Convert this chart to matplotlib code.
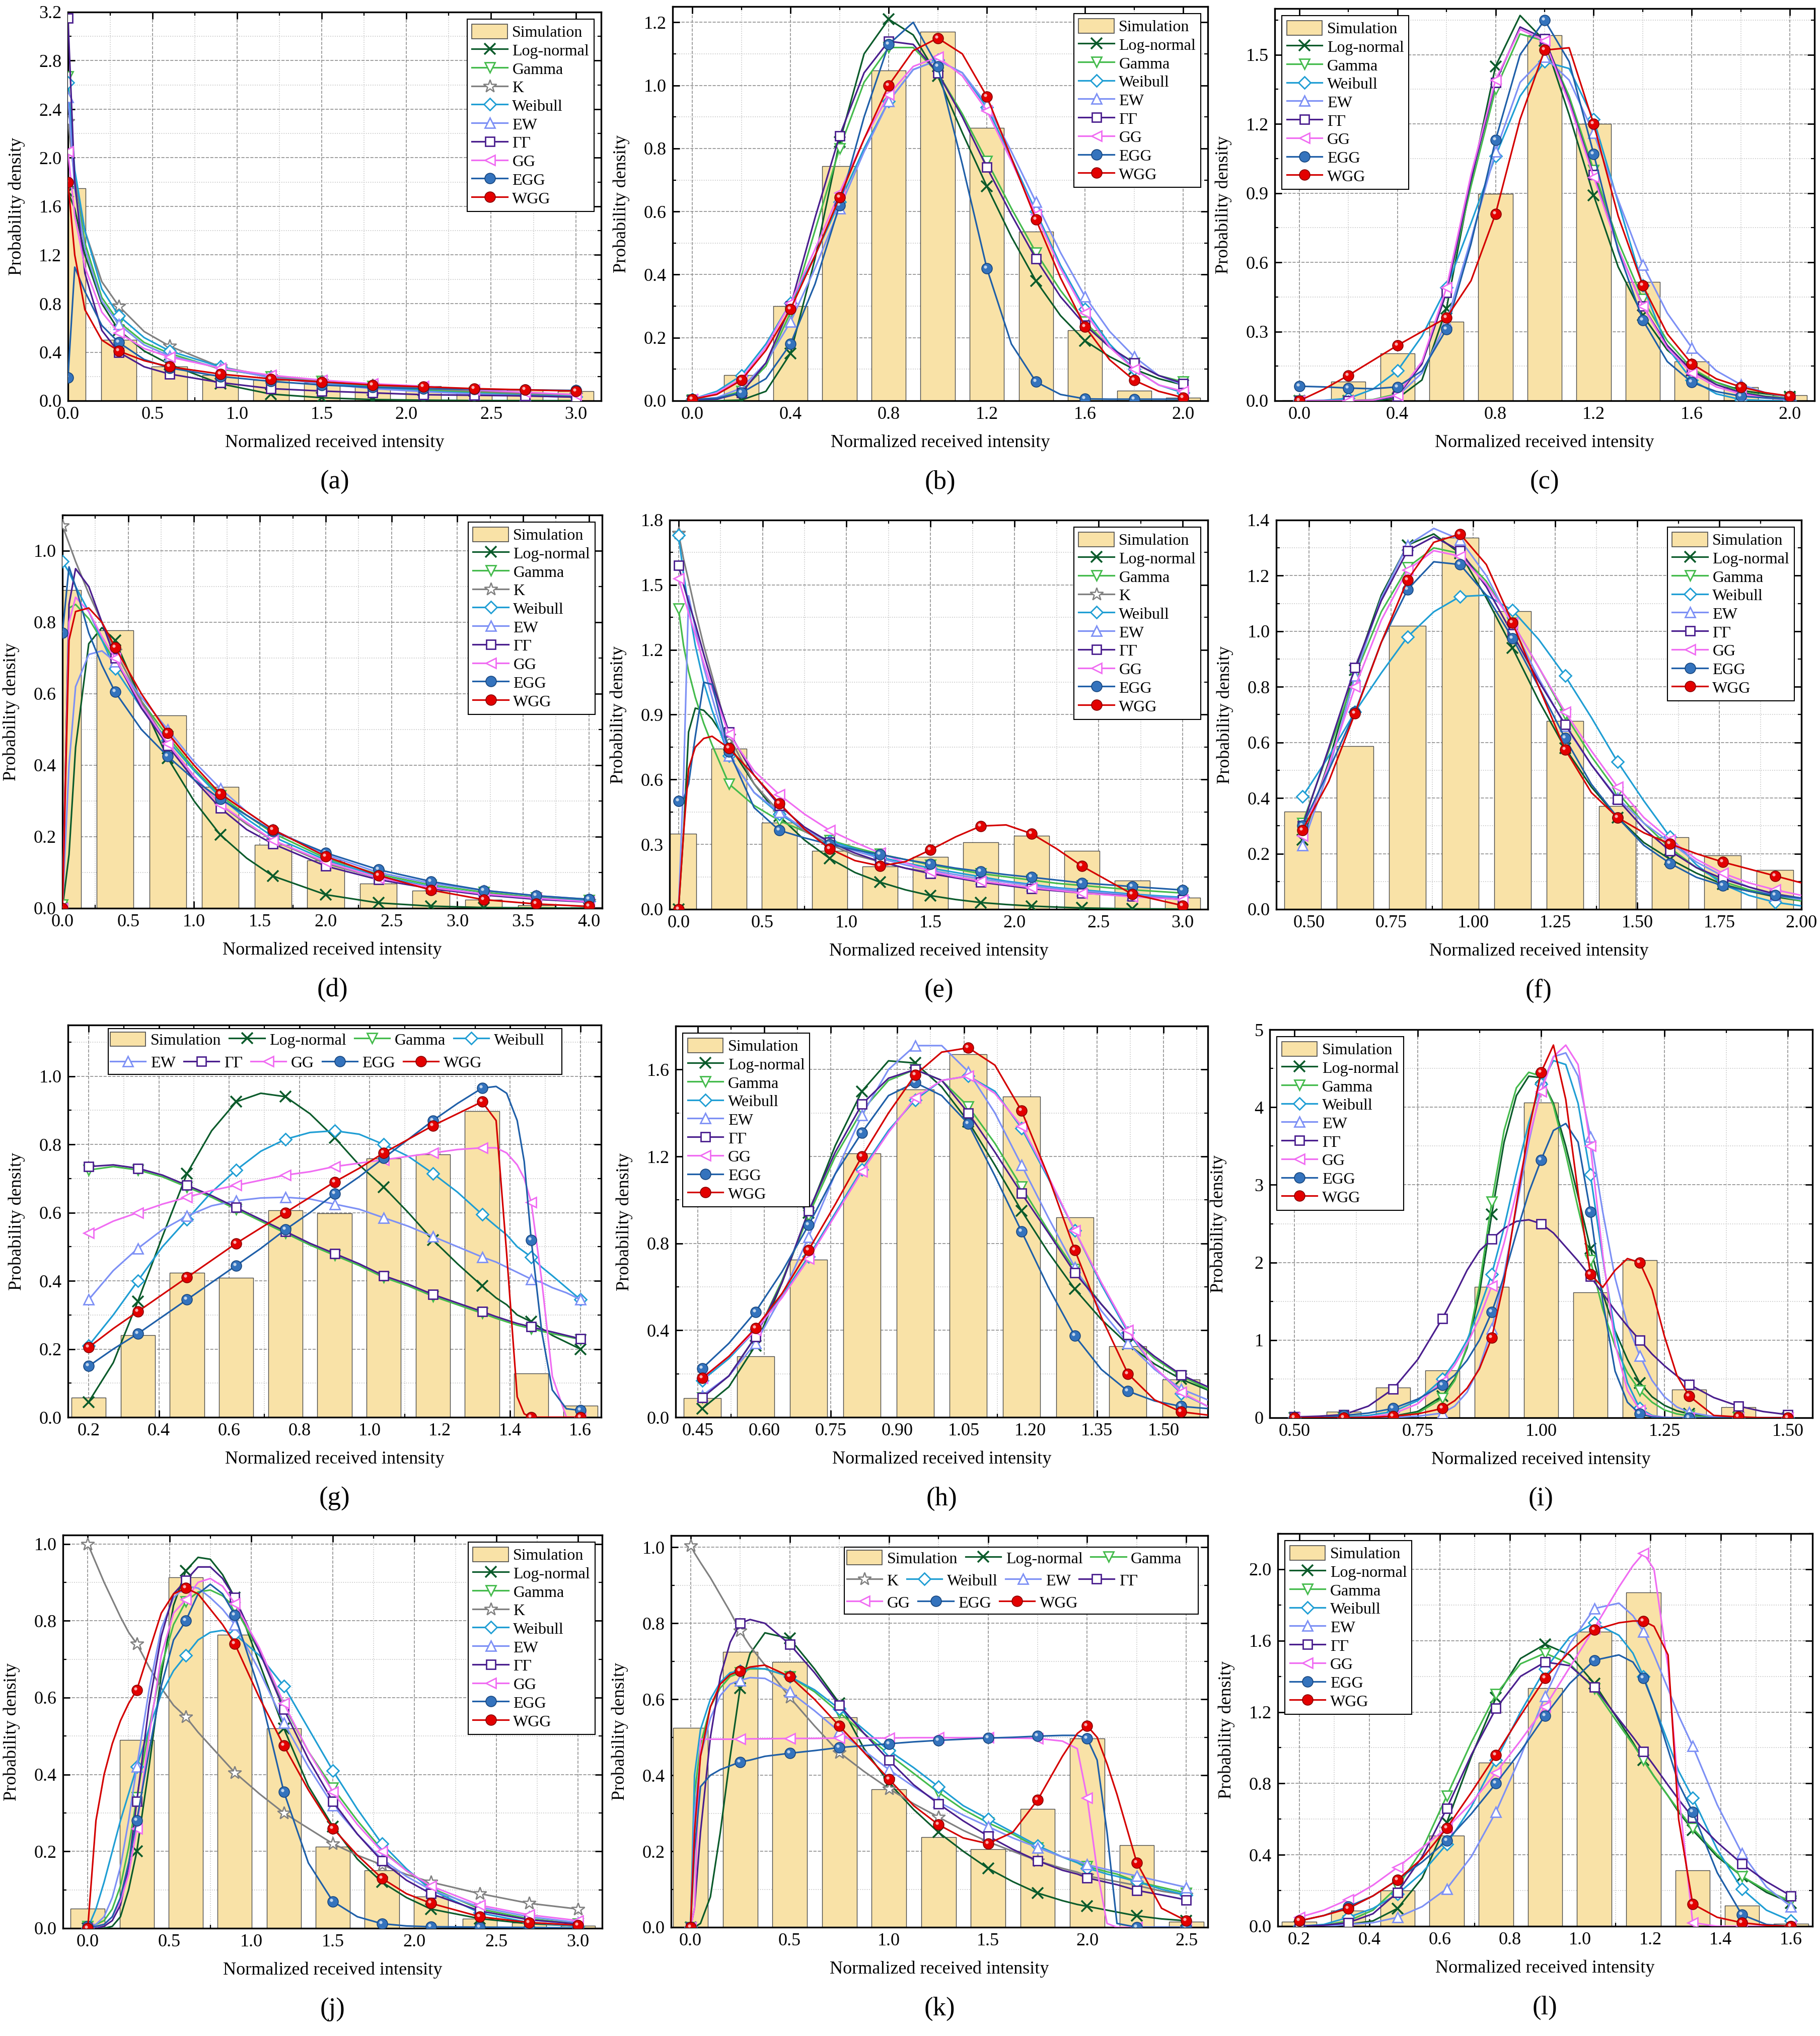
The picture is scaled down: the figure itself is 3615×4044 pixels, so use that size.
import numpy as np
import matplotlib.pyplot as plt
from matplotlib.lines import Line2D
from matplotlib.patches import Patch, Rectangle
from matplotlib.legend import Legend
from matplotlib.ticker import MultipleLocator, FormatStrFormatter
from matplotlib.transforms import offset_copy

plt.rcParams['font.family'] = ['Liberation Serif', 'DejaVu Serif']

# ---------------- data ----------------
# (a)
A_X = [0.0, 0.04, 0.1, 0.2, 0.3, 0.45, 0.6, 0.9, 1.2, 1.5, 1.8, 2.1, 2.4, 2.7, 3.0]
A_MARKS = [0.0, 0.3, 0.6, 0.9, 1.2, 1.5, 1.8, 2.1, 2.4, 2.7, 3.0]
A_BARS = [1.75, 0.50, 0.28, 0.21, 0.17, 0.15, 0.13, 0.12, 0.10, 0.09, 0.08]
A_LOGN = [1.72, 1.58, 1.20, 0.80, 0.58, 0.41, 0.30, 0.14, 0.055, 0.025, 0.01, 0.005, 0.002, 0.001, 0.0]
A_GAMMA = [2.67, 1.85, 1.30, 0.85, 0.65, 0.48, 0.39, 0.26, 0.20, 0.16, 0.12, 0.09, 0.07, 0.055, 0.045]
A_K = [2.30, 1.82, 1.40, 0.98, 0.78, 0.57, 0.45, 0.28, 0.20, 0.16, 0.13, 0.10, 0.08, 0.06, 0.05]
A_WEIB = [2.62, 1.90, 1.40, 0.92, 0.70, 0.52, 0.41, 0.28, 0.19, 0.15, 0.11, 0.08, 0.06, 0.045, 0.035]
A_EW = [2.50, 1.75, 1.25, 0.82, 0.63, 0.46, 0.37, 0.27, 0.19, 0.14, 0.10, 0.075, 0.055, 0.04, 0.03]
A_GGAM = [3.15, 1.80, 1.05, 0.58, 0.40, 0.28, 0.22, 0.15, 0.10, 0.08, 0.065, 0.05, 0.045, 0.04, 0.03]
A_GG = [2.05, 1.52, 1.10, 0.73, 0.56, 0.43, 0.36, 0.27, 0.21, 0.17, 0.14, 0.12, 0.09, 0.07, 0.05]
A_EGG = [0.19, 1.10, 0.90, 0.62, 0.48, 0.34, 0.27, 0.20, 0.16, 0.13, 0.11, 0.10, 0.095, 0.09, 0.085]
A_WGG = [1.80, 1.20, 0.75, 0.50, 0.41, 0.33, 0.28, 0.22, 0.18, 0.155, 0.13, 0.115, 0.10, 0.09, 0.08]

# (b)
B_X = [0.0, 0.1, 0.2, 0.3, 0.4, 0.5, 0.6, 0.7, 0.8, 0.9, 1.0, 1.1, 1.2, 1.3, 1.4, 1.5, 1.6, 1.7, 1.8, 1.9, 2.0]
B_MARKS = [0.0, 0.2, 0.4, 0.6, 0.8, 1.0, 1.2, 1.4, 1.6, 1.8, 2.0]
B_BARS = [0.0, 0.081, 0.30, 0.744, 1.048, 1.17, 0.866, 0.537, 0.223, 0.032, 0.009]
B_LOGN = [0.0, 0.0, 0.002, 0.03, 0.15, 0.45, 0.82, 1.10, 1.21, 1.16, 1.03, 0.85, 0.68, 0.52, 0.38, 0.27, 0.19, 0.14, 0.10, 0.07, 0.05]
B_GAMMA = [0.003, 0.008, 0.03, 0.11, 0.28, 0.54, 0.80, 1.01, 1.12, 1.12, 1.04, 0.91, 0.76, 0.61, 0.47, 0.35, 0.25, 0.17, 0.12, 0.08, 0.06]
B_WEIB = [0.005, 0.03, 0.08, 0.18, 0.31, 0.46, 0.63, 0.80, 0.95, 1.05, 1.08, 1.04, 0.93, 0.77, 0.60, 0.43, 0.29, 0.18, 0.10, 0.05, 0.025]
B_EW = [0.002, 0.01, 0.04, 0.12, 0.25, 0.42, 0.61, 0.79, 0.95, 1.05, 1.08, 1.04, 0.94, 0.79, 0.63, 0.47, 0.33, 0.22, 0.14, 0.08, 0.05]
B_GGAM = [0.003, 0.005, 0.025, 0.12, 0.30, 0.58, 0.84, 1.04, 1.14, 1.13, 1.04, 0.90, 0.74, 0.59, 0.45, 0.33, 0.24, 0.17, 0.12, 0.08, 0.055]
B_GG = [0.005, 0.025, 0.07, 0.17, 0.31, 0.48, 0.66, 0.83, 0.97, 1.06, 1.09, 1.03, 0.92, 0.76, 0.59, 0.42, 0.28, 0.17, 0.10, 0.05, 0.03]
B_EGG = [0.005, 0.008, 0.025, 0.07, 0.18, 0.37, 0.62, 0.90, 1.13, 1.20, 1.06, 0.75, 0.42, 0.18, 0.06, 0.02, 0.006, 0.005, 0.005, 0.005, 0.005]
B_WGG = [0.005, 0.02, 0.065, 0.16, 0.29, 0.46, 0.645, 0.83, 1.00, 1.11, 1.15, 1.10, 0.965, 0.77, 0.575, 0.39, 0.235, 0.13, 0.065, 0.03, 0.01]

# (c)
C_X = B_X
C_MARKS = B_MARKS
C_BARS = [0.003, 0.082, 0.205, 0.342, 0.896, 1.585, 1.20, 0.516, 0.17, 0.059, 0.025]
C_LOGN = [0.0, 0.0, 0.0, 0.0, 0.01, 0.09, 0.40, 0.95, 1.45, 1.67, 1.56, 1.24, 0.89, 0.58, 0.37, 0.22, 0.13, 0.08, 0.045, 0.03, 0.018]
C_GAMMA = [0.0, 0.0, 0.0, 0.005, 0.03, 0.16, 0.47, 0.93, 1.35, 1.59, 1.56, 1.32, 1.0, 0.69, 0.44, 0.26, 0.14, 0.08, 0.04, 0.02, 0.01]
C_WEIB = [0.0, 0.002, 0.01, 0.05, 0.13, 0.28, 0.49, 0.77, 1.06, 1.32, 1.47, 1.44, 1.22, 0.86, 0.50, 0.23, 0.09, 0.03, 0.005, 0.001, 0.0]
C_EW = [0.0, 0.0, 0.0, 0.002, 0.02, 0.12, 0.34, 0.70, 1.08, 1.38, 1.49, 1.39, 1.16, 0.87, 0.59, 0.38, 0.23, 0.13, 0.07, 0.035, 0.015]
C_GGAM = [0.0, 0.0, 0.0, 0.003, 0.02, 0.16, 0.47, 0.96, 1.38, 1.62, 1.57, 1.30, 0.98, 0.66, 0.41, 0.24, 0.13, 0.07, 0.035, 0.017, 0.008]
C_GG = [0.0, 0.0, 0.0, 0.003, 0.025, 0.17, 0.49, 0.98, 1.39, 1.61, 1.56, 1.29, 0.97, 0.66, 0.41, 0.23, 0.12, 0.06, 0.03, 0.012, 0.005]
C_EGG = [0.063, 0.06, 0.055, 0.052, 0.06, 0.13, 0.31, 0.68, 1.13, 1.50, 1.65, 1.47, 1.07, 0.65, 0.35, 0.17, 0.08, 0.04, 0.02, 0.012, 0.008]
C_WGG = [0.0, 0.05, 0.11, 0.175, 0.24, 0.30, 0.36, 0.52, 0.81, 1.22, 1.52, 1.53, 1.20, 0.80, 0.50, 0.29, 0.16, 0.095, 0.06, 0.035, 0.02]

# (d)
D_X = [0.0, 0.05, 0.1, 0.2, 0.3, 0.4, 0.6, 0.8, 1.0, 1.2, 1.4, 1.6, 2.0, 2.4, 2.8, 3.2, 3.6, 4.0]
D_MARKS = [0.0, 0.4, 0.8, 1.2, 1.6, 2.0, 2.4, 2.8, 3.2, 3.6, 4.0]
D_BARS = [0.89, 0.778, 0.539, 0.34, 0.177, 0.134, 0.069, 0.049, 0.024, 0.008, 0.003]
D_LOGN = [0.0, 0.15, 0.45, 0.74, 0.785, 0.75, 0.58, 0.42, 0.30, 0.205, 0.14, 0.09, 0.038, 0.015, 0.006, 0.002, 0.001, 0.0]
D_GAMMA = [0.01, 0.84, 0.85, 0.81, 0.75, 0.69, 0.58, 0.48, 0.39, 0.315, 0.26, 0.21, 0.14, 0.095, 0.065, 0.045, 0.03, 0.022]
D_K = [1.07, 1.02, 0.97, 0.88, 0.80, 0.72, 0.58, 0.46, 0.37, 0.29, 0.235, 0.19, 0.125, 0.085, 0.058, 0.04, 0.028, 0.02]
D_WEIB = [0.97, 0.94, 0.90, 0.83, 0.75, 0.67, 0.56, 0.47, 0.385, 0.31, 0.25, 0.20, 0.135, 0.09, 0.06, 0.04, 0.028, 0.02]
D_EW = [0.0, 0.40, 0.62, 0.71, 0.72, 0.69, 0.59, 0.50, 0.41, 0.335, 0.27, 0.22, 0.15, 0.10, 0.07, 0.05, 0.035, 0.025]
D_GGAM = [0.0, 0.85, 0.95, 0.90, 0.80, 0.70, 0.56, 0.455, 0.36, 0.28, 0.22, 0.18, 0.118, 0.08, 0.055, 0.037, 0.025, 0.017]
D_GG = [0.0, 0.80, 0.87, 0.83, 0.76, 0.70, 0.57, 0.46, 0.37, 0.29, 0.24, 0.19, 0.13, 0.085, 0.058, 0.04, 0.028, 0.018]
D_EGG = [0.77, 0.955, 0.90, 0.77, 0.68, 0.605, 0.50, 0.425, 0.36, 0.305, 0.26, 0.215, 0.155, 0.108, 0.075, 0.05, 0.035, 0.025]
D_WGG = [0.0, 0.75, 0.83, 0.84, 0.80, 0.73, 0.60, 0.49, 0.40, 0.32, 0.27, 0.22, 0.145, 0.092, 0.051, 0.024, 0.012, 0.005]

# (e)
E_X = [0.0, 0.03, 0.06, 0.1, 0.15, 0.2, 0.3, 0.45, 0.6, 0.75, 0.9, 1.05, 1.2, 1.35, 1.5, 1.65, 1.8, 1.95, 2.1, 2.25, 2.4, 2.7, 3.0]
E_MARKS = [0.0, 0.3, 0.6, 0.9, 1.2, 1.5, 1.8, 2.1, 2.4, 2.7, 3.0]
E_BARS = [0.35, 0.743, 0.40, 0.269, 0.199, 0.242, 0.31, 0.34, 0.269, 0.132, 0.054]
E_LOGN = [0.0, 0.35, 0.82, 0.93, 0.92, 0.88, 0.76, 0.58, 0.43, 0.32, 0.235, 0.17, 0.125, 0.09, 0.063, 0.045, 0.031, 0.022, 0.015, 0.01, 0.006, 0.002, 0.001]
E_GAMMA = [1.39, 1.22, 1.10, 0.98, 0.86, 0.76, 0.58, 0.48, 0.41, 0.36, 0.32, 0.285, 0.255, 0.23, 0.205, 0.185, 0.165, 0.15, 0.135, 0.12, 0.11, 0.09, 0.075]
E_K = [1.74, 1.62, 1.52, 1.38, 1.22, 1.08, 0.80, 0.58, 0.45, 0.36, 0.30, 0.25, 0.22, 0.19, 0.17, 0.15, 0.13, 0.115, 0.10, 0.09, 0.08, 0.065, 0.05]
E_WEIB = [1.73, 1.55, 1.40, 1.22, 1.05, 0.92, 0.71, 0.54, 0.44, 0.37, 0.315, 0.28, 0.24, 0.215, 0.19, 0.17, 0.15, 0.13, 0.115, 0.10, 0.09, 0.07, 0.055]
E_EW = [0.0, 0.60, 1.45, 1.30, 1.12, 0.98, 0.71, 0.54, 0.45, 0.37, 0.31, 0.27, 0.235, 0.205, 0.18, 0.16, 0.14, 0.125, 0.11, 0.095, 0.085, 0.065, 0.05]
E_GGAM = [1.59, 1.50, 1.42, 1.32, 1.18, 1.05, 0.82, 0.62, 0.48, 0.38, 0.31, 0.26, 0.22, 0.19, 0.165, 0.145, 0.125, 0.11, 0.095, 0.085, 0.075, 0.06, 0.045]
E_GG = [1.53, 1.45, 1.37, 1.27, 1.14, 1.02, 0.81, 0.64, 0.53, 0.44, 0.365, 0.31, 0.26, 0.215, 0.175, 0.15, 0.13, 0.115, 0.10, 0.088, 0.075, 0.058, 0.045]
E_EGG = [0.50, 0.51, 0.58, 0.80, 1.05, 1.04, 0.73, 0.47, 0.365, 0.33, 0.30, 0.275, 0.253, 0.23, 0.21, 0.19, 0.175, 0.16, 0.148, 0.135, 0.122, 0.105, 0.089]
E_WGG = [0.0, 0.35, 0.65, 0.75, 0.79, 0.80, 0.745, 0.62, 0.49, 0.37, 0.28, 0.225, 0.20, 0.22, 0.275, 0.335, 0.385, 0.39, 0.35, 0.28, 0.20, 0.07, 0.017]

# (f)
F_X = [0.48, 0.56, 0.64, 0.72, 0.80, 0.88, 0.96, 1.04, 1.12, 1.20, 1.28, 1.36, 1.44, 1.52, 1.60, 1.68, 1.76, 1.84, 1.92, 2.00]
F_MARKS = [0.48, 0.64, 0.80, 0.96, 1.12, 1.28, 1.44, 1.60, 1.76, 1.92]
F_BARS = [0.351, 0.587, 1.019, 1.337, 1.072, 0.677, 0.372, 0.259, 0.194, 0.142]
F_LOGN = [0.25, 0.53, 0.86, 1.13, 1.31, 1.35, 1.28, 1.12, 0.94, 0.75, 0.58, 0.44, 0.33, 0.24, 0.18, 0.13, 0.09, 0.065, 0.045, 0.03]
F_GAMMA = [0.31, 0.57, 0.84, 1.07, 1.23, 1.30, 1.28, 1.18, 1.03, 0.87, 0.70, 0.55, 0.42, 0.31, 0.22, 0.15, 0.10, 0.07, 0.05, 0.03]
F_WEIB = [0.405, 0.55, 0.71, 0.85, 0.98, 1.07, 1.125, 1.13, 1.075, 0.97, 0.84, 0.69, 0.53, 0.39, 0.26, 0.16, 0.09, 0.05, 0.025, 0.012]
F_EW = [0.23, 0.50, 0.84, 1.12, 1.31, 1.37, 1.33, 1.20, 1.02, 0.83, 0.66, 0.52, 0.40, 0.31, 0.24, 0.17, 0.12, 0.08, 0.05, 0.035]
F_GGAM = [0.30, 0.58, 0.87, 1.11, 1.29, 1.34, 1.29, 1.16, 0.99, 0.82, 0.665, 0.52, 0.395, 0.29, 0.21, 0.15, 0.11, 0.08, 0.055, 0.04]
F_GG = [0.265, 0.52, 0.80, 1.04, 1.22, 1.29, 1.27, 1.17, 1.03, 0.87, 0.71, 0.57, 0.44, 0.33, 0.25, 0.18, 0.13, 0.095, 0.07, 0.05]
F_EGG = [0.30, 0.50, 0.71, 0.96, 1.15, 1.25, 1.24, 1.13, 0.975, 0.80, 0.615, 0.45, 0.33, 0.23, 0.165, 0.115, 0.085, 0.065, 0.05, 0.04]
F_WGG = [0.285, 0.46, 0.705, 0.96, 1.185, 1.32, 1.35, 1.24, 1.03, 0.80, 0.575, 0.42, 0.33, 0.275, 0.235, 0.20, 0.17, 0.145, 0.12, 0.095]

# (g)
G_X = [0.2, 0.27, 0.34, 0.41, 0.48, 0.55, 0.62, 0.69, 0.76, 0.83, 0.90, 0.97, 1.04, 1.11, 1.18, 1.25, 1.32,
       1.36, 1.39, 1.42, 1.44, 1.46, 1.49, 1.52, 1.56, 1.60]
G_MARKS = [0.2, 0.34, 0.48, 0.62, 0.76, 0.90, 1.04, 1.18, 1.32, 1.46, 1.60]
G_BARS = [0.058, 0.241, 0.424, 0.409, 0.607, 0.598, 0.759, 0.771, 0.898, 0.128, 0.034]
G_LOGN = [0.045, 0.16, 0.34, 0.53, 0.715, 0.84, 0.925, 0.95, 0.94, 0.89, 0.82, 0.74, 0.675, 0.60, 0.52, 0.45, 0.385,
          0.35, 0.33, 0.30, 0.29, 0.28, 0.26, 0.24, 0.22, 0.20]
G_GAMMA = [0.725, 0.735, 0.725, 0.705, 0.675, 0.645, 0.61, 0.575, 0.54, 0.505, 0.475, 0.445, 0.41, 0.385, 0.355, 0.33, 0.305,
           0.29, 0.28, 0.27, 0.265, 0.26, 0.252, 0.245, 0.237, 0.228]
G_WEIB = [0.21, 0.30, 0.40, 0.50, 0.58, 0.66, 0.725, 0.78, 0.815, 0.835, 0.84, 0.83, 0.80, 0.765, 0.715, 0.66, 0.595,
          0.56, 0.535, 0.50, 0.485, 0.47, 0.44, 0.415, 0.38, 0.345]
G_EW = [0.345, 0.43, 0.495, 0.55, 0.59, 0.62, 0.635, 0.643, 0.645, 0.64, 0.625, 0.61, 0.585, 0.56, 0.53, 0.50, 0.47,
        0.455, 0.44, 0.425, 0.415, 0.405, 0.395, 0.38, 0.365, 0.345]
G_GGAM = [0.735, 0.74, 0.73, 0.71, 0.68, 0.65, 0.615, 0.58, 0.545, 0.51, 0.48, 0.45, 0.415, 0.39, 0.36, 0.335, 0.31,
          0.295, 0.285, 0.275, 0.27, 0.265, 0.257, 0.25, 0.24, 0.23]
G_GG = [0.54, 0.575, 0.60, 0.625, 0.645, 0.665, 0.68, 0.695, 0.71, 0.72, 0.735, 0.745, 0.755, 0.765, 0.775, 0.785, 0.79,
        0.79, 0.775, 0.74, 0.70, 0.63, 0.40, 0.12, 0.0, 0.0]
G_EGG = [0.15, 0.20, 0.245, 0.295, 0.345, 0.395, 0.445, 0.495, 0.55, 0.60, 0.655, 0.705, 0.76, 0.815, 0.87, 0.92, 0.965,
         0.97, 0.95, 0.87, 0.75, 0.52, 0.25, 0.08, 0.025, 0.02]
G_WGG = [0.205, 0.26, 0.31, 0.36, 0.41, 0.46, 0.51, 0.555, 0.60, 0.645, 0.69, 0.73, 0.775, 0.815, 0.855, 0.89, 0.925,
         0.87, 0.48, 0.06, 0.01, 0.0, 0.0, 0.0, 0.0, 0.0]

# (h)
H_X = [0.46, 0.52, 0.58, 0.64, 0.70, 0.76, 0.82, 0.88, 0.94, 1.00, 1.06, 1.12, 1.18, 1.24, 1.30, 1.36, 1.42, 1.48, 1.54, 1.60]
H_MARKS = [0.46, 0.58, 0.70, 0.82, 0.94, 1.06, 1.18, 1.30, 1.42, 1.54]
H_BARS = [0.089, 0.28, 0.726, 1.214, 1.507, 1.671, 1.475, 0.919, 0.326, 0.173]
H_LOGN = [0.04, 0.14, 0.33, 0.62, 0.94, 1.25, 1.50, 1.64, 1.63, 1.52, 1.36, 1.16, 0.95, 0.76, 0.59, 0.45, 0.335, 0.245, 0.175, 0.125]
H_GAMMA = [0.09, 0.19, 0.37, 0.63, 0.93, 1.20, 1.41, 1.55, 1.60, 1.55, 1.43, 1.26, 1.06, 0.86, 0.68, 0.52, 0.38, 0.27, 0.19, 0.13]
H_WEIB = [0.17, 0.27, 0.40, 0.56, 0.74, 0.94, 1.14, 1.32, 1.46, 1.55, 1.57, 1.50, 1.33, 1.10, 0.86, 0.61, 0.39, 0.23, 0.11, 0.05]
H_EW = [0.10, 0.19, 0.34, 0.56, 0.83, 1.12, 1.39, 1.60, 1.71, 1.71, 1.59, 1.40, 1.16, 0.92, 0.69, 0.49, 0.34, 0.22, 0.13, 0.08]
H_GGAM = [0.09, 0.19, 0.37, 0.62, 0.95, 1.22, 1.44, 1.56, 1.60, 1.55, 1.40, 1.22, 1.03, 0.85, 0.665, 0.52, 0.38, 0.28, 0.195, 0.14]
H_GG = [0.18, 0.28, 0.40, 0.55, 0.73, 0.93, 1.13, 1.31, 1.47, 1.55, 1.57, 1.49, 1.34, 1.11, 0.86, 0.62, 0.40, 0.23, 0.115, 0.05]
H_EGG = [0.225, 0.34, 0.485, 0.67, 0.885, 1.12, 1.31, 1.48, 1.54, 1.48, 1.35, 1.11, 0.855, 0.60, 0.375, 0.22, 0.12, 0.075, 0.05, 0.04]
H_WGG = [0.18, 0.28, 0.41, 0.57, 0.77, 0.98, 1.20, 1.40, 1.575, 1.68, 1.70, 1.62, 1.41, 1.11, 0.77, 0.46, 0.20, 0.08, 0.025, 0.01]

# (i)
I_X = [0.5, 0.55, 0.6, 0.65, 0.7, 0.75, 0.8, 0.825, 0.85, 0.875, 0.9, 0.925, 0.95, 0.975, 1.0, 1.025, 1.05,
       1.075, 1.1, 1.125, 1.15, 1.175, 1.2, 1.225, 1.25, 1.275, 1.3, 1.35, 1.4, 1.45, 1.5]
I_MARKS = [0.5, 0.6, 0.7, 0.8, 0.9, 1.0, 1.1, 1.2, 1.3, 1.4, 1.5]
I_BARS = [0.0, 0.08, 0.39, 0.607, 1.685, 4.06, 1.618, 2.03, 0.363, 0.139, 0.0]
I_LOGN = [0.0, 0.0, 0.0, 0.005, 0.02, 0.08, 0.28, 0.50, 0.90, 1.60, 2.62, 3.55, 4.15, 4.40, 4.38, 4.05, 3.50,
          2.85, 2.18, 1.60, 1.12, 0.75, 0.45, 0.27, 0.16, 0.09, 0.05, 0.015, 0.005, 0.0, 0.0]
I_GAMMA = [0.0, 0.0, 0.0, 0.003, 0.015, 0.06, 0.25, 0.48, 0.92, 1.70, 2.78, 3.70, 4.25, 4.45, 4.40, 4.02, 3.40,
           2.70, 2.03, 1.40, 0.92, 0.58, 0.35, 0.20, 0.10, 0.05, 0.025, 0.005, 0.0, 0.0, 0.0]
I_WEIB = [0.0, 0.0, 0.01, 0.03, 0.08, 0.22, 0.50, 0.72, 1.00, 1.40, 1.85, 2.45, 3.15, 3.80, 4.30, 4.60, 4.55,
          4.05, 3.13, 2.05, 1.10, 0.45, 0.12, 0.03, 0.005, 0.0, 0.0, 0.0, 0.0, 0.0, 0.0]
I_EW = [0.0, 0.0, 0.0, 0.0, 0.005, 0.02, 0.06, 0.15, 0.33, 0.65, 1.15, 1.85, 2.70, 3.55, 4.25, 4.65, 4.70,
        4.40, 3.62, 2.65, 1.80, 1.20, 0.80, 0.48, 0.27, 0.14, 0.07, 0.015, 0.003, 0.0, 0.0]
I_GGAM = [0.01, 0.02, 0.04, 0.15, 0.37, 0.75, 1.28, 1.58, 1.90, 2.15, 2.30, 2.44, 2.53, 2.55, 2.50, 2.38, 2.20,
          2.02, 1.82, 1.60, 1.38, 1.18, 1.00, 0.82, 0.67, 0.54, 0.43, 0.26, 0.15, 0.08, 0.04]
I_GG = [0.0, 0.0, 0.0, 0.01, 0.05, 0.18, 0.47, 0.68, 0.95, 1.28, 1.70, 2.25, 2.90, 3.60, 4.20, 4.65, 4.80,
        4.55, 3.50, 2.10, 0.95, 0.35, 0.10, 0.02, 0.005, 0.0, 0.0, 0.0, 0.0, 0.0, 0.0]
I_EGG = [0.0, 0.0, 0.03, 0.06, 0.12, 0.24, 0.42, 0.55, 0.74, 1.00, 1.36, 1.82, 2.38, 2.90, 3.32, 3.70, 3.79,
         3.55, 2.65, 1.50, 0.60, 0.20, 0.05, 0.01, 0.0, 0.0, 0.0, 0.0, 0.0, 0.0, 0.0]
I_WGG = [0.0, 0.0, 0.0, 0.005, 0.02, 0.05, 0.12, 0.22, 0.38, 0.63, 1.03, 1.75, 2.75, 3.70, 4.45, 4.80, 4.10,
         2.90, 1.85, 1.68, 1.90, 2.05, 2.00, 1.65, 1.05, 0.55, 0.28, 0.03, 0.01, 0.0, 0.0]

# (j)
J_X = [0.0, 0.05, 0.1, 0.15, 0.2, 0.25, 0.3, 0.375, 0.45, 0.525, 0.6, 0.675, 0.75, 0.825, 0.9,
       1.05, 1.2, 1.35, 1.5, 1.65, 1.8, 1.95, 2.1, 2.4, 2.7, 3.0]
J_MARKS = [0.0, 0.3, 0.6, 0.9, 1.2, 1.5, 1.8, 2.1, 2.4, 2.7, 3.0]
J_BARS = [0.051, 0.49, 0.913, 0.763, 0.52, 0.212, 0.15, 0.082, 0.025, 0.014, 0.006]
J_LOGN = [0.0, 0.0, 0.0, 0.005, 0.03, 0.10, 0.20, 0.42, 0.66, 0.84, 0.93, 0.965, 0.96, 0.92, 0.86,
          0.69, 0.52, 0.37, 0.265, 0.18, 0.12, 0.08, 0.05, 0.025, 0.012, 0.006]
J_GAMMA = [0.005, 0.01, 0.02, 0.05, 0.11, 0.21, 0.34, 0.52, 0.68, 0.79, 0.85, 0.875, 0.88, 0.865, 0.835,
           0.72, 0.58, 0.46, 0.365, 0.28, 0.205, 0.15, 0.105, 0.05, 0.025, 0.012]
J_K = [1.0, 0.95, 0.90, 0.855, 0.81, 0.77, 0.74, 0.68, 0.625, 0.58, 0.55, 0.51, 0.475, 0.44, 0.405,
       0.35, 0.30, 0.26, 0.22, 0.19, 0.165, 0.14, 0.12, 0.09, 0.065, 0.05]
J_WEIB = [0.0, 0.05, 0.12, 0.20, 0.28, 0.35, 0.42, 0.52, 0.61, 0.67, 0.71, 0.75, 0.77, 0.775, 0.765,
          0.71, 0.63, 0.52, 0.41, 0.31, 0.22, 0.155, 0.10, 0.04, 0.015, 0.005]
J_EW = [0.0, 0.01, 0.03, 0.08, 0.16, 0.28, 0.42, 0.62, 0.78, 0.86, 0.89, 0.885, 0.86, 0.83, 0.79,
        0.67, 0.535, 0.42, 0.32, 0.245, 0.18, 0.135, 0.10, 0.055, 0.03, 0.015]
J_GGAM = [0.0, 0.0, 0.005, 0.02, 0.06, 0.16, 0.33, 0.58, 0.76, 0.87, 0.905, 0.94, 0.94, 0.91, 0.86,
          0.72, 0.57, 0.44, 0.33, 0.245, 0.175, 0.125, 0.09, 0.045, 0.022, 0.011]
J_GG = [0.0, 0.005, 0.01, 0.03, 0.07, 0.14, 0.26, 0.50, 0.71, 0.82, 0.855, 0.90, 0.91, 0.89, 0.845,
        0.73, 0.585, 0.46, 0.355, 0.27, 0.20, 0.15, 0.11, 0.06, 0.035, 0.02]
J_EGG = [0.005, 0.005, 0.01, 0.03, 0.08, 0.17, 0.28, 0.46, 0.63, 0.75, 0.80, 0.87, 0.895, 0.87, 0.815,
         0.62, 0.355, 0.17, 0.07, 0.03, 0.012, 0.006, 0.004, 0.003, 0.002, 0.001]
J_WGG = [0.0, 0.28, 0.40, 0.48, 0.54, 0.585, 0.62, 0.72, 0.82, 0.87, 0.885, 0.87, 0.83, 0.79, 0.74,
         0.60, 0.475, 0.36, 0.26, 0.19, 0.13, 0.09, 0.065, 0.03, 0.015, 0.008]

# (k)
K_X = [0.0, 0.02, 0.05, 0.1, 0.15, 0.2, 0.25, 0.3, 0.375, 0.5, 0.625, 0.75, 0.875, 1.0, 1.125, 1.25,
       1.375, 1.5, 1.625, 1.75, 1.875, 1.95, 2.0, 2.05, 2.1, 2.15, 2.25, 2.375, 2.5]
K_MARKS = [0.0, 0.25, 0.5, 0.75, 1.0, 1.25, 1.5, 1.75, 2.0, 2.25, 2.5]
K_BARS = [0.525, 0.725, 0.698, 0.552, 0.363, 0.237, 0.206, 0.312, 0.497, 0.216, 0.014]
K_LOGN = [0.0, 0.0, 0.01, 0.08, 0.25, 0.45, 0.63, 0.72, 0.775, 0.76, 0.68, 0.59, 0.47, 0.38, 0.31, 0.25,
          0.20, 0.155, 0.12, 0.09, 0.07, 0.06, 0.055, 0.05, 0.045, 0.04, 0.03, 0.022, 0.017]
K_GAMMA = [0.0, 0.35, 0.48, 0.58, 0.63, 0.66, 0.67, 0.68, 0.68, 0.66, 0.62, 0.565, 0.51, 0.455, 0.405, 0.355,
           0.31, 0.275, 0.245, 0.21, 0.185, 0.17, 0.16, 0.153, 0.146, 0.14, 0.12, 0.105, 0.09]
K_K = [1.005, 0.985, 0.96, 0.92, 0.875, 0.83, 0.78, 0.74, 0.69, 0.605, 0.53, 0.46, 0.41, 0.365, 0.325, 0.29,
       0.255, 0.225, 0.20, 0.175, 0.155, 0.145, 0.135, 0.13, 0.125, 0.12, 0.11, 0.095, 0.085]
K_WEIB = [0.0, 0.40, 0.52, 0.60, 0.645, 0.67, 0.675, 0.683, 0.68, 0.66, 0.625, 0.575, 0.52, 0.465, 0.42, 0.37,
          0.32, 0.285, 0.25, 0.215, 0.185, 0.17, 0.155, 0.148, 0.14, 0.134, 0.12, 0.10, 0.085]
K_EW = [0.0, 0.30, 0.45, 0.55, 0.61, 0.64, 0.65, 0.657, 0.655, 0.62, 0.57, 0.515, 0.465, 0.415, 0.37, 0.33,
        0.295, 0.265, 0.235, 0.21, 0.185, 0.175, 0.165, 0.158, 0.152, 0.146, 0.135, 0.12, 0.105]
K_GGAM = [0.0, 0.05, 0.25, 0.50, 0.66, 0.75, 0.80, 0.81, 0.80, 0.745, 0.67, 0.585, 0.51, 0.44, 0.375, 0.325,
          0.28, 0.24, 0.205, 0.175, 0.15, 0.14, 0.13, 0.124, 0.118, 0.112, 0.097, 0.085, 0.072]
K_GG = [0.0, 0.05, 0.495, 0.495, 0.495, 0.495, 0.495, 0.496, 0.496, 0.497, 0.497, 0.498, 0.498, 0.498, 0.499, 0.499,
        0.499, 0.499, 0.498, 0.497, 0.49, 0.47, 0.34, 0.15, 0.01, 0.0, 0.0, 0.0, 0.0]
K_EGG = [0.0, 0.20, 0.37, 0.40, 0.415, 0.425, 0.435, 0.44, 0.45, 0.458, 0.465, 0.473, 0.478, 0.483, 0.488, 0.492,
         0.495, 0.498, 0.50, 0.503, 0.505, 0.505, 0.497, 0.44, 0.25, 0.01, 0.0, 0.0, 0.0]
K_WGG = [0.0, 0.25, 0.45, 0.58, 0.64, 0.665, 0.675, 0.685, 0.69, 0.66, 0.60, 0.53, 0.46, 0.39, 0.32, 0.27,
         0.235, 0.22, 0.25, 0.335, 0.45, 0.51, 0.53, 0.50, 0.43, 0.35, 0.17, 0.05, 0.017]

# (l)
L_X = [0.2, 0.27, 0.34, 0.41, 0.48, 0.55, 0.62, 0.69, 0.76, 0.83, 0.90, 0.97, 1.04, 1.11, 1.15, 1.18,
       1.21, 1.25, 1.28, 1.32, 1.39, 1.46, 1.53, 1.60]
L_MARKS = [0.2, 0.34, 0.48, 0.62, 0.76, 0.90, 1.04, 1.18, 1.32, 1.46, 1.60]
L_BARS = [0.024, 0.088, 0.199, 0.508, 0.918, 1.333, 1.65, 1.87, 0.312, 0.117, 0.015]
L_LOGN = [0.0, 0.0, 0.01, 0.03, 0.10, 0.27, 0.58, 0.95, 1.28, 1.50, 1.58, 1.52, 1.36, 1.15, 1.03, 0.93,
          0.84, 0.73, 0.64, 0.54, 0.39, 0.28, 0.19, 0.13]
L_GAMMA = [0.0, 0.005, 0.03, 0.09, 0.22, 0.43, 0.73, 1.03, 1.30, 1.47, 1.53, 1.47, 1.33, 1.13, 1.02, 0.93,
           0.84, 0.73, 0.65, 0.55, 0.40, 0.28, 0.20, 0.14]
L_WEIB = [0.0, 0.01, 0.05, 0.10, 0.18, 0.30, 0.46, 0.67, 0.93, 1.20, 1.44, 1.62, 1.70, 1.63, 1.53, 1.40,
          1.24, 1.03, 0.87, 0.72, 0.43, 0.21, 0.09, 0.03]
L_EW = [0.0, 0.0, 0.01, 0.02, 0.05, 0.11, 0.21, 0.39, 0.64, 0.95, 1.29, 1.58, 1.78, 1.81, 1.74, 1.65,
        1.52, 1.33, 1.18, 1.01, 0.68, 0.41, 0.22, 0.11]
L_GGAM = [0.0, 0.005, 0.02, 0.07, 0.19, 0.39, 0.66, 0.96, 1.22, 1.40, 1.48, 1.46, 1.34, 1.16, 1.06, 0.98,
          0.90, 0.79, 0.71, 0.61, 0.47, 0.35, 0.25, 0.17]
L_GG = [0.05, 0.09, 0.15, 0.23, 0.33, 0.44, 0.55, 0.69, 0.86, 1.04, 1.23, 1.45, 1.67, 1.90, 2.02, 2.09,
        2.00, 1.45, 0.75, 0.02, 0.0, 0.0, 0.0, 0.0]
L_EGG = [0.03, 0.06, 0.11, 0.17, 0.26, 0.36, 0.48, 0.63, 0.80, 0.98, 1.18, 1.36, 1.49, 1.52, 1.48, 1.39,
         1.24, 0.99, 0.80, 0.64, 0.30, 0.065, 0.01, 0.0]
L_WGG = [0.03, 0.06, 0.10, 0.17, 0.26, 0.38, 0.55, 0.75, 0.96, 1.18, 1.39, 1.54, 1.66, 1.70, 1.71, 1.71,
         1.68, 1.52, 0.60, 0.125, 0.05, 0.02, 0.005, 0.0]

# ---------------- styling ----------------
BAR_FACE = '#f9e2a7'
BAR_EDGE = '#4a4a4a'
LW = 2.3
LEG_FS = 23
STYLES = {
    'Log-normal': dict(color='#0b5b2b', marker='x', ms=16, mfc='none', mec='#0b5b2b', mew=2.6),
    'Gamma': dict(color='#44bb4c', marker='v', ms=15, mfc='white', mec='#44bb4c', mew=2.0),
    'K': dict(color='#808080', marker='*', ms=19, mfc='white', mec='#808080', mew=1.8),
    'Weibull': dict(color='#1f9ed4', marker='D', ms=12, mfc='white', mec='#1f9ed4', mew=2.0),
    'EW': dict(color='#7d90f5', marker='^', ms=15, mfc='white', mec='#7d90f5', mew=2.0),
    'ΓΓ': dict(color='#4a1e8e', marker='s', ms=13, mfc='white', mec='#4a1e8e', mew=2.0),
    'GG': dict(color='#f06cf2', marker='<', ms=15, mfc='white', mec='#f06cf2', mew=2.0),
    'EGG': dict(color='#1f5fa8', marker='o', ms=15, mfc='#3473bd', mec='#17467f', mew=1.2),
    'WGG': dict(color='#d40000', marker='o', ms=15, mfc='#e30000', mec='#8a0000', mew=1.2),
}
ORDER = ['Log-normal', 'Gamma', 'K', 'Weibull', 'EW', 'ΓΓ', 'GG', 'EGG', 'WGG']


def curves(p, with_k):
    g = globals()
    out = {'Log-normal': g[p + '_LOGN'], 'Gamma': g[p + '_GAMMA']}
    if with_k:
        out['K'] = g[p + '_K']
    out.update({'Weibull': g[p + '_WEIB'], 'EW': g[p + '_EW'], 'ΓΓ': g[p + '_GGAM'],
                'GG': g[p + '_GG'], 'EGG': g[p + '_EGG'], 'WGG': g[p + '_WGG']})
    return out


def single_col(with_k):
    return ['Simulation'] + [n for n in ORDER if with_k or n != 'K']


PANELS = [
    dict(p='A', k=True, box=(135, 24, 1194, 796), xlim=(0, 3.15), ylim=(0, 3.2), xt=(0.5, 0.25), yt=(0.4, 0.2),
         xf='%.1f', yf='%.1f', leg=dict(loc='upper right')),
    dict(p='B', k=False, box=(1336, 13, 2399, 796), xlim=(-0.08, 2.1), ylim=(0, 1.25), xt=(0.4, 0.2), yt=(0.2, 0.1),
         xf='%.1f', yf='%.1f', leg=dict(loc='upper right')),
    dict(p='C', k=False, box=(2532, 17, 3604, 796), xlim=(-0.1, 2.1), ylim=(0, 1.70), xt=(0.4, 0.2), yt=(0.3, 0.15),
         xf='%.1f', yf='%.1f', leg=dict(loc='upper left')),
    dict(p='D', k=True, box=(124, 1023, 1196, 1804), xlim=(0, 4.1), ylim=(0, 1.10), xt=(0.5, 0.25), yt=(0.2, 0.1),
         xf='%.1f', yf='%.1f', leg=dict(loc='upper right')),
    dict(p='E', k=True, box=(1330, 1033, 2399, 1806), xlim=(-0.053, 3.15), ylim=(0, 1.8), xt=(0.5, 0.25), yt=(0.3, 0.15),
         xf='%.1f', yf='%.1f', leg=dict(loc='upper right')),
    dict(p='F', k=False, box=(2535, 1033, 3578, 1806), xlim=(0.40, 2.0), ylim=(0, 1.4), xt=(0.25, 0.125), yt=(0.2, 0.1),
         xf='%.2f', yf='%.1f', leg=dict(loc='upper right')),
    dict(p='G', k=False, box=(135, 2036, 1194, 2815), xlim=(0.141, 1.659), ylim=(0, 1.15), xt=(0.2, 0.1), yt=(0.2, 0.1),
         xf='%.1f', yf='%.1f',
         leg=dict(rows=[['Simulation', 'Log-normal', 'Gamma', 'Weibull'],
                        ['EW', 'ΓΓ', 'GG', 'EGG', 'WGG']],
                  frame=(0.0755, 0.926, 0.991, 0.874))),
    dict(p='H', k=False, box=(1342, 2038, 2399, 2815), xlim=(0.40, 1.60), ylim=(0, 1.80), xt=(0.15, 0.075), yt=(0.4, 0.2),
         xf='%.2f', yf='%.1f', leg=dict(loc='upper left')),
    dict(p='I', k=False, box=(2522, 2045, 3600, 2816), xlim=(0.45, 1.55), ylim=(0, 5.0), xt=(0.25, 0.125), yt=(1, 0.5),
         xf='%.2f', yf='%d', leg=dict(loc='upper left')),
    dict(p='J', k=True, box=(125, 3049, 1196, 3830), xlim=(-0.152, 3.148), ylim=(0, 1.023), xt=(0.5, 0.25), yt=(0.2, 0.1),
         xf='%.1f', yf='%.1f', leg=dict(loc='upper right')),
    dict(p='K', k=True, box=(1333, 3050, 2399, 3828), xlim=(-0.098, 2.608), ylim=(0, 1.031), xt=(0.5, 0.25), yt=(0.2, 0.1),
         xf='%.1f', yf='%.1f',
         leg=dict(rows=[['Simulation', 'Log-normal', 'Gamma'],
                        ['K', 'Weibull', 'EW', 'ΓΓ'],
                        ['GG', 'EGG', 'WGG']],
                  frame=(0.323, 0.982, 0.970, 0.800))),
    dict(p='L', k=False, box=(2538, 3046, 3600, 3826), xlim=(0.139, 1.661), ylim=(0, 2.20), xt=(0.2, 0.1), yt=(0.4, 0.2),
         xf='%.1f', yf='%.1f', leg=dict(loc='upper left')),
]

W, H = 3615, 4044
fig = plt.figure(figsize=(W / 100, H / 100), dpi=100)
fig.patch.set_facecolor('white')

LEG_KW = dict(fontsize=LEG_FS, handlelength=2.2, handleheight=1.0, handletextpad=0.3, columnspacing=0.5)


def legend_handle(name):
    if name == 'Simulation':
        return Patch(facecolor=BAR_FACE, edgecolor=BAR_EDGE, linewidth=1.2), name
    s = STYLES[name]
    return Line2D([], [], color=s['color'], lw=LW, marker=s['marker'], ms=s['ms'],
                  mfc=s['mfc'], mec=s['mec'], mew=s['mew']), name


def row_legend(ax, rows, frame):
    x0, x1, ytop, ybot = frame
    ax.add_patch(Rectangle((x0, ybot), x1 - x0, ytop - ybot, transform=ax.transAxes,
                           facecolor='white', edgecolor='black', lw=1.5, zorder=19))
    row_h = (ytop - ybot) / len(rows)
    for i, row in enumerate(rows):
        hl = [legend_handle(n) for n in row]
        lg = Legend(ax, [h for h, _ in hl], [t_ for _, t_ in hl], loc='center left',
                    bbox_to_anchor=(x0 + 0.004, ytop - (i + 0.5) * row_h), ncol=len(row),
                    frameon=False, borderpad=0.0, borderaxespad=0.0, **LEG_KW)
        lg.set_zorder(20)
        ax.add_artist(lg)


for spec in PANELS:
    p = spec['p']
    l, t, r, b = spec['box']
    ax = fig.add_axes([l / W, 1 - b / H, (r - l) / W, (b - t) / H])
    x = np.array(globals()[p + '_X'], dtype=float)
    marks = np.array(globals()[p + '_MARKS'], dtype=float)
    bars = globals()[p + '_BARS']
    step = marks[1] - marks[0]

    ax.set_axisbelow(True)
    ax.grid(which='major', ls='--', color='#8f8f8f', lw=1.2)
    ax.grid(which='minor', ls=':', color='#c4c4c4', lw=1.2)
    ax.bar(marks, bars, width=0.7 * step, color=BAR_FACE, edgecolor=BAR_EDGE, linewidth=1.0, zorder=2)

    shine = offset_copy(ax.transData, fig=fig, x=-3, y=3, units='dots')
    mask = np.isclose(x[:, None], marks[None, :]).any(axis=1)
    for z, (name, vals) in enumerate(curves(p, spec['k']).items()):
        s = STYLES[name]
        y = np.array(vals, dtype=float)
        ax.plot(x, y, color=s['color'], lw=LW, zorder=3 + z, solid_joinstyle='round')
        ax.plot(x[mask], y[mask], ls='none', marker=s['marker'], ms=s['ms'], mfc=s['mfc'],
                mec=s['mec'], mew=s['mew'], zorder=3 + z)
        if name in ('EGG', 'WGG'):
            ax.plot(x[mask], y[mask], ls='none', marker='o', ms=4.5, mfc='white', mec='none',
                    alpha=0.7, transform=shine, zorder=3 + z)

    ax.set_xlim(*spec['xlim'])
    ax.set_ylim(*spec['ylim'])
    ax.xaxis.set_major_locator(MultipleLocator(spec['xt'][0]))
    ax.xaxis.set_minor_locator(MultipleLocator(spec['xt'][1]))
    ax.yaxis.set_major_locator(MultipleLocator(spec['yt'][0]))
    ax.yaxis.set_minor_locator(MultipleLocator(spec['yt'][1]))
    ax.xaxis.set_major_formatter(FormatStrFormatter(spec['xf']))
    ax.yaxis.set_major_formatter(FormatStrFormatter(spec['yf']))
    ax.tick_params(which='both', direction='in', top=True, right=True, labelsize=26)
    ax.tick_params(which='major', length=10, width=2.0)
    ax.tick_params(which='minor', length=5, width=1.6)
    ax.tick_params(axis='x', pad=8)
    ax.tick_params(axis='y', pad=9)
    for sp in ax.spines.values():
        sp.set_linewidth(2.4)

    lg = spec['leg']
    if 'rows' in lg:
        row_legend(ax, lg['rows'], lg['frame'])
    else:
        hl = [legend_handle(n) for n in single_col(spec['k'])]
        leg = ax.legend([h for h, _ in hl], [t_ for _, t_ in hl], loc=lg['loc'], frameon=True,
                        fancybox=False, framealpha=1.0, edgecolor='black', labelspacing=0.14,
                        borderpad=0.3, borderaxespad=0.45, **LEG_KW)
        leg.get_frame().set_linewidth(1.5)
        leg.set_zorder(20)

    cx = (l + r) / 2
    fig.text(cx / W, 1 - (b + 83) / H, 'Normalized received intensity', ha='center', va='center', fontsize=26)
    fig.text((l - 102) / W, 1 - ((t + b) / 2) / H, 'Probability density', ha='center', va='center',
             rotation=90, fontsize=26)
    fig.text(cx / W, 1 - (b + 162) / H, '(%s)' % p.lower(), ha='center', va='center', fontsize=38)

fig.savefig('out.png', dpi=100, facecolor='white')
